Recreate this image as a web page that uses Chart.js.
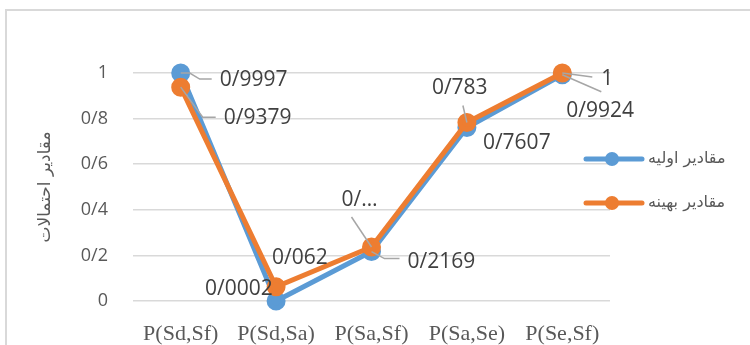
<!DOCTYPE html>
<html>
<head>
<meta charset="utf-8">
<script src="https://cdn.jsdelivr.net/npm/chart.js@4"></script>
<style>
  html, body { margin: 0; padding: 0; background: #fff; }
  #wrap { position: relative; width: 750px; height: 345px; overflow: hidden; }
  #frame { position: absolute; left: 5px; top: 9px; width: 800px; height: 400px;
           border: 2px solid #d9d9d9; box-sizing: border-box; }
  canvas { position: absolute; left: 0; top: 0; }
</style>
</head>
<body>
<div id="wrap">
  <div id="frame"></div>
  <canvas id="probChart" width="750" height="345"></canvas>
</div>
<script>
const categories = ["P(Sd,Sf)", "P(Sd,Sa)", "P(Sa,Sf)", "P(Sa,Se)", "P(Se,Sf)"];
const initialValues = [0.9997, 0.0002, 0.2169, 0.7607, 0.9924];
const optimizedValues = [0.9379, 0.062, 0.237, 0.783, 1];
const yTicks = [0, 0.2, 0.4, 0.6, 0.8, 1];
const seriesNames = ["مقادیر اولیه", "مقادیر بهینه"];
const yTitle = "مقادیر احتمالات";

// label placement per point: text left/middle offset and leader polyline
const labelPlacement = [
  [
    { dx: 39, dy: 7, lead: [[9, 0], [19, 6], [31, 6]] },
    { dx: -71, dy: -12 },
    { dx: 36, dy: 10, lead: [[13, 7], [28, 7]] },
    { dx: 16, dy: 15 },
    { dx: 4, dy: 36, lead: [[39, 17]] }
  ],
  [
    { dx: 43, dy: 31, lead: [[22, 30], [35, 30]] },
    { dx: -4, dy: -29 },
    { dx: -30, dy: -47, text: "0/…", lead: [[-20, -30]] },
    { dx: -35, dy: -34, lead: [[-4, -17]] },
    { dx: 39, dy: 6, lead: [[30, 4]] }
  ]
];

const fmt = (v) => String(v).replace(".", "/");

const pointLabels = {
  id: "pointLabels",
  afterDatasetsDraw(chart) {
    const ctx = chart.ctx;
    ctx.save();
    chart.data.datasets.forEach((ds, di) => {
      const meta = chart.getDatasetMeta(di);
      meta.data.forEach((pt, i) => {
        const p = labelPlacement[di][i];
        if (p.lead) {
          ctx.strokeStyle = "#a6a6a6";
          ctx.lineWidth = 1.5;
          ctx.beginPath();
          ctx.moveTo(pt.x, pt.y);
          p.lead.forEach(([lx, ly]) => ctx.lineTo(pt.x + lx, pt.y + ly));
          ctx.stroke();
        }
        ctx.fillStyle = "#404040";
        ctx.font = "21px 'Open Sans'";
        ctx.textAlign = "left";
        ctx.textBaseline = "middle";
        ctx.fillText(p.text || fmt(ds.data[i]), pt.x + p.dx, pt.y + p.dy);
      });
    });
    ctx.restore();
  }
};

// legend on the right and rotated axis title
const sideText = {
  id: "sideText",
  afterDraw(chart) {
    const ctx = chart.ctx;
    const area = chart.chartArea;
    ctx.save();
    chart.data.datasets.forEach((ds, di) => {
      const y = 159 + di * 44;
      const x0 = area.right - 24;
      ctx.strokeStyle = ds.borderColor;
      ctx.lineWidth = 5;
      ctx.lineCap = "round";
      ctx.beginPath();
      ctx.moveTo(x0, y);
      ctx.lineTo(x0 + 56, y);
      ctx.stroke();
      ctx.fillStyle = ds.borderColor;
      ctx.beginPath();
      ctx.arc(x0 + 26, y, 7, 0, Math.PI * 2);
      ctx.fill();
      ctx.fillStyle = "#595959";
      ctx.font = "16px 'DejaVu Sans'";
      ctx.textAlign = "left";
      ctx.textBaseline = "middle";
      ctx.fillText(ds.label, x0 + 62, y);
    });
    ctx.translate(50, 187);
    ctx.rotate(-Math.PI / 2);
    ctx.fillStyle = "#595959";
    ctx.font = "17px 'DejaVu Sans'";
    ctx.textAlign = "center";
    ctx.textBaseline = "alphabetic";
    ctx.fillText(yTitle, 0, 0);
    ctx.restore();
  }
};

new Chart(document.getElementById("probChart"), {
  type: "line",
  data: {
    labels: categories,
    datasets: [
      {
        label: seriesNames[0],
        data: initialValues,
        borderColor: "#5b9bd5",
        backgroundColor: "#5b9bd5",
        borderWidth: 5,
        pointRadius: 7,
        pointHoverRadius: 7,
        tension: 0,
        order: 1
      },
      {
        label: seriesNames[1],
        data: optimizedValues,
        borderColor: "#ed7d31",
        backgroundColor: "#ed7d31",
        borderWidth: 5,
        pointRadius: 7,
        pointHoverRadius: 7,
        tension: 0,
        order: 0
      }
    ]
  },
  options: {
    responsive: false,
    animation: false,
    clip: false,
    layout: { padding: { left: 0, top: 73, right: 140, bottom: 0 } },
    plugins: { legend: { display: false }, tooltip: { enabled: false } },
    scales: {
      x: {
        offset: true,
        grid: { display: false, offset: true },
        border: { display: false },
        ticks: {
          color: "#595959",
          font: { family: "'Liberation Serif'", size: 22 },
          padding: 12,
          maxRotation: 0,
          autoSkip: false
        },
        afterFit(scale) { scale.height = 44; }
      },
      y: {
        min: 0,
        max: 1,
        afterBuildTicks(scale) { scale.ticks = yTicks.map((v) => ({ value: v })); },
        grid: { color: "#d9d9d9", lineWidth: 1.5, drawTicks: false },
        border: { display: false },
        ticks: {
          color: "#595959",
          font: { family: "'Open Sans'", size: 18 },
          padding: 25,
          callback: (v) => fmt(v)
        },
        afterFit(scale) { scale.width = 133; }
      }
    }
  },
  plugins: [pointLabels, sideText]
});
</script>
</body>
</html>
